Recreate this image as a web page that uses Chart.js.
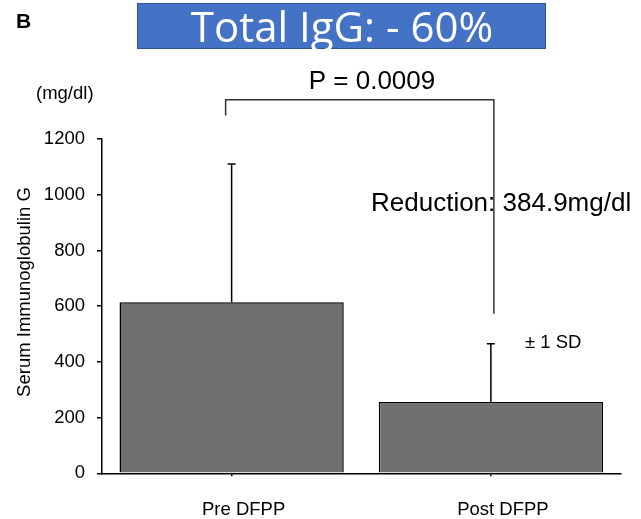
<!DOCTYPE html>
<html>
<head>
<meta charset="utf-8">
<script src="https://cdn.jsdelivr.net/npm/chart.js@4.4.1/dist/chart.umd.min.js"></script>
<style>
  html, body { margin: 0; padding: 0; background: #fff; }
  #chart { display: block; }
</style>
</head>
<body>
<canvas id="chart" width="641" height="519"></canvas>
<script>
// data
const categories = ["Pre DFPP", "Post DFPP"];
const means = [614, 256];
const sds = [496, 209];
const yTicks = [0, 200, 400, 600, 800, 1000, 1200];

// significance bracket, in data units
const bracketTop = 1341;
const bracketLeftEnd = 1284;
const bracketRightEnd = 573;

const sans = '"Liberation Sans", Arial, Helvetica, sans-serif';

// error bars (upper half only, with a small cap)
const errorBars = {
    id: "errorBars",
    afterDatasetsDraw(chart) {
        const ctx = chart.ctx;
        const x = chart.scales.x;
        const y = chart.scales.y;
        ctx.save();
        ctx.strokeStyle = "#000";
        ctx.lineWidth = 1.5;
        means.forEach((m, i) => {
            const px = x.getPixelForValue(i);
            const top = y.getPixelForValue(m + sds[i]);
            const bottom = y.getPixelForValue(m);
            ctx.beginPath();
            ctx.moveTo(px, bottom);
            ctx.lineTo(px, top);
            ctx.moveTo(px - 4, top);
            ctx.lineTo(px + 4, top);
            ctx.stroke();
        });
        ctx.restore();
    }
};

// title box, labels, bracket
const annotations = {
    id: "annotations",
    afterDraw(chart) {
        const ctx = chart.ctx;
        const x = chart.scales.x;
        const y = chart.scales.y;
        ctx.save();

        // blue title box
        ctx.fillStyle = "#4472C4";
        ctx.fillRect(137, 3, 409, 46);
        ctx.strokeStyle = "#2F528F";
        ctx.lineWidth = 1;
        ctx.strokeRect(137.5, 3.5, 408, 45);
        ctx.fillStyle = "#fff";
        ctx.font = '42px "Open Sans", sans-serif';
        ctx.textAlign = "center";
        ctx.textBaseline = "alphabetic";
        ctx.fillText("Total IgG: - 60%", 342, 42);

        // panel letter
        ctx.fillStyle = "#000";
        ctx.textAlign = "left";
        ctx.font = "bold 21px " + sans;
        ctx.fillText("B", 16, 28);

        // unit
        ctx.font = "18.5px " + sans;
        ctx.fillText("(mg/dl)", 36, 99);

        // y axis title
        ctx.save();
        ctx.translate(30, 292);
        ctx.rotate(-Math.PI / 2);
        ctx.textAlign = "center";
        ctx.fillText("Serum Immunoglobulin G", 0, 0);
        ctx.restore();

        // bracket
        const lx = x.getPixelForValue(0) - 6;
        const rx = x.getPixelForValue(1) + 3;
        ctx.strokeStyle = "#333";
        ctx.lineWidth = 1.5;
        ctx.beginPath();
        ctx.moveTo(lx, y.getPixelForValue(bracketLeftEnd));
        ctx.lineTo(lx, y.getPixelForValue(bracketTop));
        ctx.lineTo(rx, y.getPixelForValue(bracketTop));
        ctx.lineTo(rx, y.getPixelForValue(bracketRightEnd));
        ctx.stroke();

        ctx.fillStyle = "#000";
        ctx.font = "26px " + sans;
        ctx.textAlign = "center";
        ctx.fillText("P = 0.0009", 372, 89);

        ctx.textAlign = "left";
        ctx.fillText("Reduction: 384.9mg/dl", 371, 211);

        ctx.font = "18.5px " + sans;
        ctx.fillText("\u00b1 1 SD", 525, 348);

        ctx.restore();
    }
};

Chart.defaults.color = "#000";
Chart.defaults.font.family = sans;

new Chart(document.getElementById("chart"), {
    type: "bar",
    data: {
        labels: categories,
        datasets: [{
            data: means,
            backgroundColor: "#707070",
            borderColor: "#000",
            borderWidth: 1.5,
            categoryPercentage: 1,
            barPercentage: 0.865
        }]
    },
    options: {
        responsive: false,
        animation: false,
        devicePixelRatio: 1,
        layout: {
            padding: { top: 139, right: 20.5, bottom: 0, left: 0 }
        },
        plugins: {
            legend: { display: false },
            tooltip: { enabled: false }
        },
        scales: {
            x: {
                afterFit: (scale) => { scale.height = 45.7; },
                grid: {
                    offset: false,
                    drawOnChartArea: false,
                    tickLength: 3,
                    color: "#000",
                    lineWidth: 1.5
                },
                border: { color: "#000", width: 1.5 },
                ticks: {
                    padding: 23,
                    labelOffset: 12,
                    font: { size: 18.5 }
                }
            },
            y: {
                min: 0,
                max: 1200,
                afterFit: (scale) => { scale.width = 102; },
                afterBuildTicks: (scale) => {
                    scale.ticks = yTicks.map(v => ({ value: v }));
                },
                grid: {
                    drawOnChartArea: false,
                    tickLength: 5,
                    color: "#000",
                    lineWidth: 1.5
                },
                border: { color: "#000", width: 1.5 },
                ticks: {
                    padding: 12,
                    font: { size: 18.5 },
                    callback: (v) => String(v)
                }
            }
        }
    },
    plugins: [errorBars, annotations]
});
</script>
</body>
</html>
